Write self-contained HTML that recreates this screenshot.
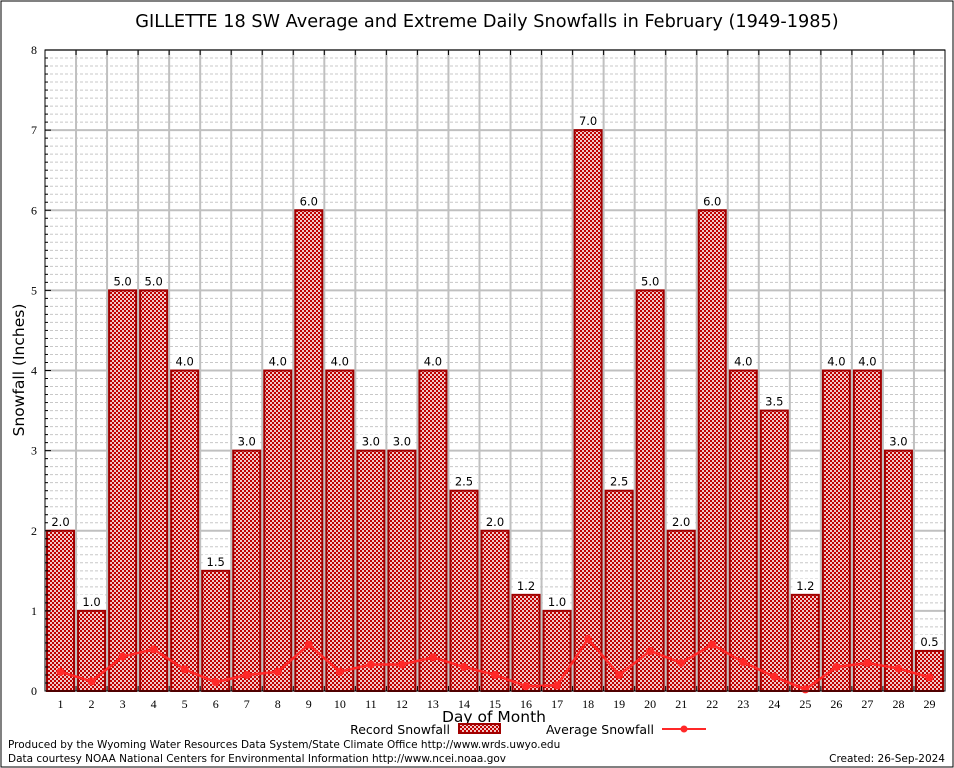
<!DOCTYPE html>
<html><head><meta charset="utf-8"><style>
body{margin:0;background:#fff;}
svg{display:block;font-family:"DejaVu Sans","Liberation Sans",sans-serif;}
</style></head><body>
<svg id="chart" width="954" height="768" xmlns="http://www.w3.org/2000/svg">
<defs>
<pattern id="hatch" x="0" y="0" width="4" height="4" patternUnits="userSpaceOnUse">
<rect width="4" height="4" fill="#c00000" shape-rendering="crispEdges"/>
<rect x="0" y="0" width="2" height="2" fill="#f0c8c8" shape-rendering="crispEdges"/><rect x="2" y="2" width="2" height="2" fill="#f0c8c8" shape-rendering="crispEdges"/>
</pattern>
</defs>
<rect x="1" y="1" width="952" height="766" fill="#fff" stroke="#000"/>
<text x="487" y="27" text-anchor="middle" font-size="17.7">GILLETTE 18 SW Average and Extreme Daily Snowfalls in February (1949-1985)</text>
<g id="grid"></g>
<g id="bars"></g>
<g id="line"></g>
<rect x="45" y="50" width="900" height="641" fill="none" stroke="#000"/>
<g id="axes" font-family="'Liberation Serif',serif" font-size="12"></g>
<text x="24" y="370" transform="rotate(-90 24 370)" text-anchor="middle" font-size="15.5">Snowfall (Inches)</text>
<text x="494" y="722" text-anchor="middle" font-size="15.5">Day of Month</text>
<g>
<text x="450" y="734" text-anchor="end" font-size="12.5">Record Snowfall</text>
<rect x="459" y="724" width="41" height="9" fill="url(#hatch)" stroke="#a00000" stroke-width="2"/>
</g>
<g>
<text x="654" y="734" text-anchor="end" font-size="12.5">Average Snowfall</text>
<line x1="662" y1="729" x2="706" y2="729" stroke="#ff2828" stroke-width="2"/>
<circle cx="684" cy="729" r="3.5" fill="#ff2828"/>
</g>
<text x="8" y="748" font-size="10.5">Produced by the Wyoming Water Resources Data System/State Climate Office http://www.wrds.uwyo.edu</text>
<text x="8" y="762" font-size="10.5">Data courtesy NOAA National Centers for Environmental Information http://www.ncei.noaa.gov</text>
<text x="945" y="762" text-anchor="end" font-size="10.5">Created:  26-Sep-2024</text>
</svg>
<script>
const days=[1,2,3,4,5,6,7,8,9,10,11,12,13,14,15,16,17,18,19,20,21,22,23,24,25,26,27,28,29];
const records=[2.0,1.0,5.0,5.0,4.0,1.5,3.0,4.0,6.0,4.0,3.0,3.0,4.0,2.5,2.0,1.2,1.0,7.0,2.5,5.0,2.0,6.0,4.0,3.5,1.2,4.0,4.0,3.0,0.5];
const averages=[0.24,0.12,0.43,0.52,0.27,0.11,0.2,0.24,0.58,0.24,0.33,0.33,0.42,0.3,0.2,0.06,0.07,0.65,0.2,0.5,0.35,0.58,0.36,0.18,0.02,0.3,0.35,0.28,0.17];
const yTicks=[0,1,2,3,4,5,6,7,8];
const NS="http://www.w3.org/2000/svg";
const L=45,R=945,T=50,B=691,YMAX=8;
const step=(R-L)/days.length;
function xc(i){return L+step*(i+0.5);}
function y(v){return B-(v/YMAX)*(B-T);}
function mk(tag,attrs,parent){const e=document.createElementNS(NS,tag);for(const k in attrs)e.setAttribute(k,attrs[k]);parent.appendChild(e);return e;}
const grid=document.getElementById('grid'),bars=document.getElementById('bars'),line=document.getElementById('line'),axes=document.getElementById('axes');
for(let v=0.1;v<YMAX;v+=0.1){
  const yy=y(v);
  const major=Math.abs(v-Math.round(v))<0.01;
  const g=mk('line',{x1:L,x2:R,y1:yy,y2:yy,stroke:major?'#c0c0c0':'#c8c8c8','stroke-width':major?2:1,'stroke-dasharray':major?'':'3,2'},grid);
  
  
  const t=mk('line',{x1:L,x2:L+(major?6:3),y1:yy,y2:yy,stroke:'#000'},axes);
  
  
}
for(let k=1;k<days.length;k++){
  const xx=L+step*k;
  const g=mk('line',{x1:xx,x2:xx,y1:T,y2:B,stroke:'#c0c0c0','stroke-width':2},grid);
  
  
  mk('line',{x1:xx,x2:xx,y1:T,y2:T+5,stroke:'#000'},axes);
  mk('line',{x1:xx,x2:xx,y1:B,y2:B-5,stroke:'#000'},axes);
}
yTicks.forEach(v=>{
  const t=mk('text',{x:L-8,y:y(v)+4,'text-anchor':'end'},axes);
  t.textContent=v;
  
  
});
days.forEach((d,i)=>{
  const t=mk('text',{x:xc(i),y:B+17,'text-anchor':'middle'},axes);
  t.textContent=d;
  
  
});
records.forEach((v,i)=>{
  const w=27;
  const r=mk('rect',{x:xc(i)-w/2,y:y(v),width:w,height:B-y(v),fill:'url(#hatch)',stroke:'#a00000','stroke-width':2},bars);
  
  
  const bg=mk('rect',{x:xc(i)-13,y:y(v)-16,width:26,height:13,fill:'#fff'},bars);
  
  
  const t=mk('text',{x:xc(i),y:y(v)-5,'text-anchor':'middle','font-size':11.5},bars);
  t.textContent=v.toFixed(1);
  
  
});
const pts=averages.map((v,i)=>xc(i)+','+y(v)).join(' ');
const pl=mk('polyline',{points:pts,fill:'none',stroke:'#ff2828','stroke-width':2.5},line);


averages.forEach((v,i)=>{
  const c=mk('circle',{cx:xc(i),cy:y(v),r:4,fill:'#ff2828'},line);
  
  
});
</script>
</body></html>
